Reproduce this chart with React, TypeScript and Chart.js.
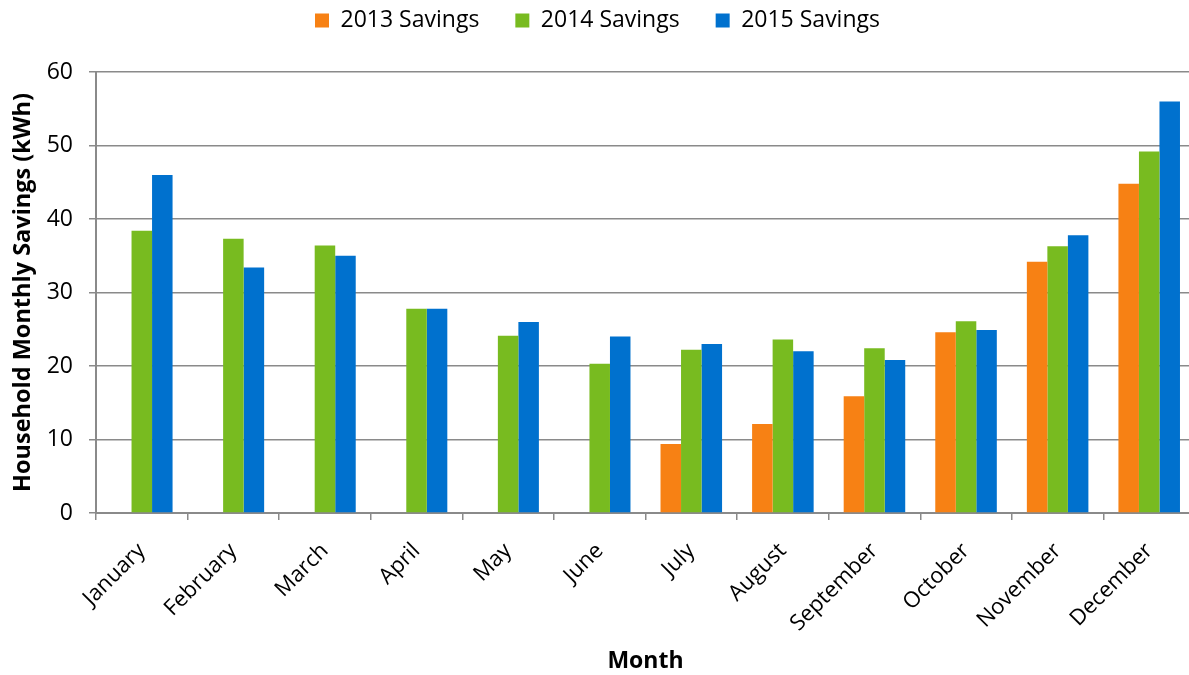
import React, { useEffect, useRef } from "react";
import { Chart, registerables } from "chart.js";

Chart.register(...registerables);

const months = [
  "January", "February", "March", "April", "May", "June",
  "July", "August", "September", "October", "November", "December",
];
const savings2013: (number | null)[] = [null, null, null, null, null, null, 9.4, 12.1, 15.9, 24.6, 34.2, 44.8];
const savings2014 = [38.4, 37.3, 36.4, 27.8, 24.1, 20.3, 22.2, 23.6, 22.4, 26.1, 36.3, 49.2];
const savings2015 = [46.0, 33.4, 35.0, 27.8, 26.0, 24.0, 23.0, 22.0, 20.8, 24.9, 37.8, 56.0];
const seriesLabels = ["2013 Savings", "2014 Savings", "2015 Savings"];
const seriesColors = ["#F78114", "#78BB20", "#0071CE"];
const yMin = 0;
const yMax = 60;
const yStep = 10;

const FONT = "'Open Sans', 'Noto Sans', sans-serif";

const legendTweak = {
  id: "legendTweak",
  beforeUpdate(chart: any) {
    const lg = chart.legend;
    if (lg && !lg.__patched) {
      lg.__patched = true;
      const origFit = lg.fit.bind(lg);
      lg.fit = function () {
        origFit();
        this.height = 72;
        if (this.minSize) this.minSize.height = 72;
      };
      const origDraw = lg.draw.bind(lg);
      lg.draw = function () {
        const ctx = this.ctx;
        ctx.save();
        ctx.translate(0, -27);
        origDraw();
        ctx.restore();
      };
    }
  },
};

export default function App() {
  const ref = useRef<HTMLCanvasElement | null>(null);
  useEffect(() => {
    document.body.style.margin = "0";
    document.body.style.overflow = "hidden";
    if (!ref.current) return;
    const gridColor = "#8a8a8a";
    const chart = new Chart(ref.current, {
      type: "bar",
      data: {
        labels: months,
        datasets: [savings2013, savings2014, savings2015].map((d, i) => ({
          label: seriesLabels[i],
          data: d,
          backgroundColor: seriesColors[i],
          borderWidth: 0,
          barPercentage: 1,
          categoryPercentage: 0.672,
        })),
      },
      plugins: [legendTweak],
      options: {
        animation: false,
        responsive: true,
        maintainAspectRatio: false,
        layout: { padding: 0 },
        plugins: {
          legend: {
            position: "top",
            labels: {
              boxWidth: 14,
              boxHeight: 14,
              padding: 36,
              color: "#000",
              font: { family: FONT, size: 23 },
            },
          },
          tooltip: { enabled: false },
        },
        scales: {
          x: {
            offset: true,
            grid: {
              offset: true,
              drawOnChartArea: false,
              drawTicks: true,
              tickLength: 7,
              color: gridColor,
              lineWidth: 1.5,
            },
            border: { color: gridColor, width: 2 },
            ticks: {
              maxRotation: 45,
              minRotation: 45,
              color: "#000",
              padding: 18,
              font: { family: FONT, size: 22 },
            },
            title: {
              display: true,
              text: "Month",
              color: "#000",
              font: { family: FONT, size: 23, weight: "bold" },
              padding: { top: 0, bottom: 0 },
            },
            afterFit(scale: any) {
              scale.height = 162;
            },
          },
          y: {
            min: yMin,
            max: yMax,
            ticks: {
              stepSize: yStep,
              color: "#000",
              padding: 16,
              font: { family: FONT, size: 23 },
            },
            grid: {
              color: gridColor,
              lineWidth: 1.5,
              drawTicks: true,
              tickLength: 7,
            },
            border: { color: gridColor, width: 2 },
            title: {
              display: true,
              text: "Household Monthly Savings (kWh)",
              color: "#000",
              font: { family: FONT, size: 23.5, weight: "bold" },
              padding: { top: 9, bottom: 0 },
            },
            afterFit(scale: any) {
              scale.width = 96;
            },
          },
        },
      },
    });
    return () => chart.destroy();
  }, []);

  return (
    <div style={{ position: "fixed", left: 0, top: 0, width: 1189, height: 675, overflow: "hidden", background: "#fff" }}>
      <div style={{ position: "relative", width: 1195, height: 675 }}>
        <canvas ref={ref} />
      </div>
    </div>
  );
}
